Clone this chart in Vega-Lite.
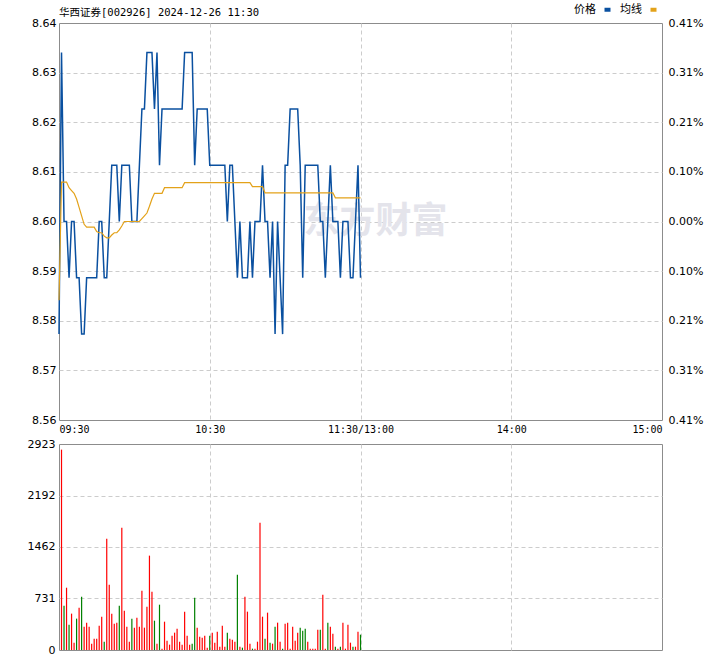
{
  "$schema": "https://vega.github.io/schema/vega-lite/v6.json",
  "background": "white",
  "padding": {"left": 5, "top": 3, "right": 0, "bottom": 0},
  "bounds": "flush",
  "spacing": 24,
  "resolve": {"scale": {"color": "independent"}},
  "config": {
    "view": {"stroke": "#8c8c8c", "strokeWidth": 1},
    "axis": {"domain": false, "ticks": false, "gridColor": "#cccccc", "gridDash": [4, 3], "gridWidth": 1, "labelFont": "DejaVu Sans", "labelFontSize": 11, "labelColor": "#000000", "title": null}
  },
  "datasets": {
    "px": [
      {"t":0,"p":8.58,"a":8.586},{"t":1,"p":8.63,"a":8.607},{"t":2,"p":8.60,"a":8.607},{"t":3,"p":8.60,"a":8.607},{"t":4,"p":8.59,"a":8.606},
      {"t":5,"p":8.60,"a":8.6055},{"t":6,"p":8.60,"a":8.605},{"t":7,"p":8.59,"a":8.604},{"t":8,"p":8.59,"a":8.6025},{"t":9,"p":8.58,"a":8.601},
      {"t":10,"p":8.58,"a":8.5995},{"t":11,"p":8.59,"a":8.599},{"t":12,"p":8.59,"a":8.599},{"t":13,"p":8.59,"a":8.599},{"t":14,"p":8.59,"a":8.599},
      {"t":15,"p":8.59,"a":8.5982},{"t":16,"p":8.60,"a":8.598},{"t":17,"p":8.60,"a":8.598},{"t":18,"p":8.59,"a":8.5974},{"t":19,"p":8.59,"a":8.5971},
      {"t":20,"p":8.60,"a":8.5971},{"t":21,"p":8.61,"a":8.5976},{"t":22,"p":8.61,"a":8.598},{"t":23,"p":8.61,"a":8.598},{"t":24,"p":8.60,"a":8.5985},
      {"t":25,"p":8.61,"a":8.5992},{"t":26,"p":8.61,"a":8.600},{"t":27,"p":8.61,"a":8.600},{"t":28,"p":8.61,"a":8.600},{"t":29,"p":8.60,"a":8.600},
      {"t":30,"p":8.60,"a":8.600},{"t":31,"p":8.60,"a":8.600},{"t":32,"p":8.61,"a":8.600},{"t":33,"p":8.62,"a":8.6005},{"t":34,"p":8.62,"a":8.601},
      {"t":35,"p":8.63,"a":8.6015},{"t":36,"p":8.63,"a":8.6027},{"t":37,"p":8.63,"a":8.604},{"t":38,"p":8.62,"a":8.605},{"t":39,"p":8.63,"a":8.605},
      {"t":40,"p":8.61,"a":8.605},{"t":41,"p":8.62,"a":8.605},{"t":42,"p":8.62,"a":8.606},{"t":43,"p":8.62,"a":8.606},{"t":44,"p":8.62,"a":8.606},
      {"t":45,"p":8.62,"a":8.606},{"t":46,"p":8.62,"a":8.606},{"t":47,"p":8.62,"a":8.606},{"t":48,"p":8.62,"a":8.606},{"t":49,"p":8.62,"a":8.606},
      {"t":50,"p":8.63,"a":8.6069},{"t":51,"p":8.63,"a":8.6069},{"t":52,"p":8.63,"a":8.6069},{"t":53,"p":8.63,"a":8.6069},{"t":54,"p":8.61,"a":8.6069},
      {"t":55,"p":8.62,"a":8.6069},{"t":56,"p":8.62,"a":8.6069},{"t":57,"p":8.62,"a":8.6069},{"t":58,"p":8.62,"a":8.6069},{"t":59,"p":8.62,"a":8.6069},
      {"t":60,"p":8.61,"a":8.6069},{"t":61,"p":8.61,"a":8.6069},{"t":62,"p":8.61,"a":8.6069},{"t":63,"p":8.61,"a":8.6069},{"t":64,"p":8.61,"a":8.6069},
      {"t":65,"p":8.61,"a":8.6069},{"t":66,"p":8.61,"a":8.6069},{"t":67,"p":8.60,"a":8.6069},{"t":68,"p":8.61,"a":8.6069},{"t":69,"p":8.61,"a":8.6069},
      {"t":70,"p":8.60,"a":8.6069},{"t":71,"p":8.59,"a":8.6069},{"t":72,"p":8.60,"a":8.6069},{"t":73,"p":8.59,"a":8.6069},{"t":74,"p":8.59,"a":8.6069},
      {"t":75,"p":8.59,"a":8.6069},{"t":76,"p":8.60,"a":8.6069},{"t":77,"p":8.59,"a":8.6062},{"t":78,"p":8.60,"a":8.6062},{"t":79,"p":8.60,"a":8.6062},
      {"t":80,"p":8.60,"a":8.6062},{"t":81,"p":8.61,"a":8.6062},{"t":82,"p":8.60,"a":8.6051},{"t":83,"p":8.60,"a":8.6051},{"t":84,"p":8.59,"a":8.6051},
      {"t":85,"p":8.60,"a":8.6051},{"t":86,"p":8.58,"a":8.6051},{"t":87,"p":8.60,"a":8.6051},{"t":88,"p":8.59,"a":8.6051},{"t":89,"p":8.58,"a":8.6051},
      {"t":90,"p":8.61,"a":8.6051},{"t":91,"p":8.61,"a":8.6051},{"t":92,"p":8.62,"a":8.6051},{"t":93,"p":8.62,"a":8.6051},{"t":94,"p":8.62,"a":8.6051},
      {"t":95,"p":8.62,"a":8.6051},{"t":96,"p":8.61,"a":8.6051},{"t":97,"p":8.59,"a":8.6051},{"t":98,"p":8.61,"a":8.6051},{"t":99,"p":8.61,"a":8.6051},
      {"t":100,"p":8.61,"a":8.6051},{"t":101,"p":8.61,"a":8.6051},{"t":102,"p":8.61,"a":8.6051},{"t":103,"p":8.61,"a":8.6051},{"t":104,"p":8.60,"a":8.6051},
      {"t":105,"p":8.60,"a":8.6051},{"t":106,"p":8.59,"a":8.6051},{"t":107,"p":8.60,"a":8.6051},{"t":108,"p":8.61,"a":8.6051},{"t":109,"p":8.60,"a":8.6051},
      {"t":110,"p":8.60,"a":8.6042},{"t":111,"p":8.60,"a":8.6042},{"t":112,"p":8.59,"a":8.6042},{"t":113,"p":8.60,"a":8.6042},{"t":114,"p":8.60,"a":8.6042},
      {"t":115,"p":8.60,"a":8.6042},{"t":116,"p":8.59,"a":8.6042},{"t":117,"p":8.59,"a":8.6042},{"t":118,"p":8.60,"a":8.6042},{"t":119,"p":8.61,"a":8.6042},
      {"t":120,"p":8.59,"a":8.6042}
    ],
    "vol": [
      {"t":1,"v":2843,"d":"r"},{"t":2,"v":629,"d":"g"},{"t":3,"v":884,"d":"r"},{"t":4,"v":360,"d":"g"},{"t":5,"v":516,"d":"r"},
      {"t":6,"v":104,"d":"r"},{"t":7,"v":445,"d":"g"},{"t":8,"v":600,"d":"r"},{"t":9,"v":757,"d":"g"},{"t":10,"v":331,"d":"r"},
      {"t":11,"v":388,"d":"r"},{"t":12,"v":331,"d":"r"},{"t":13,"v":90,"d":"r"},{"t":14,"v":161,"d":"r"},{"t":15,"v":161,"d":"r"},
      {"t":16,"v":345,"d":"r"},{"t":17,"v":473,"d":"r"},{"t":18,"v":118,"d":"g"},{"t":19,"v":1580,"d":"r"},{"t":20,"v":927,"d":"r"},
      {"t":21,"v":516,"d":"r"},{"t":22,"v":374,"d":"r"},{"t":23,"v":388,"d":"r"},{"t":24,"v":629,"d":"g"},{"t":25,"v":1736,"d":"r"},
      {"t":26,"v":558,"d":"r"},{"t":27,"v":331,"d":"r"},{"t":28,"v":118,"d":"r"},{"t":29,"v":445,"d":"g"},{"t":30,"v":317,"d":"r"},
      {"t":31,"v":459,"d":"r"},{"t":32,"v":331,"d":"r"},{"t":33,"v":842,"d":"r"},{"t":34,"v":317,"d":"r"},{"t":35,"v":615,"d":"r"},
      {"t":36,"v":1339,"d":"r"},{"t":37,"v":828,"d":"r"},{"t":38,"v":416,"d":"g"},{"t":39,"v":90,"d":"r"},{"t":40,"v":643,"d":"g"},
      {"t":41,"v":19,"d":"r"},{"t":42,"v":402,"d":"r"},{"t":43,"v":132,"d":"r"},{"t":44,"v":76,"d":"r"},{"t":45,"v":203,"d":"r"},
      {"t":46,"v":246,"d":"r"},{"t":47,"v":303,"d":"r"},{"t":48,"v":118,"d":"r"},{"t":49,"v":76,"d":"r"},{"t":50,"v":544,"d":"r"},
      {"t":51,"v":203,"d":"r"},{"t":52,"v":76,"d":"r"},{"t":53,"v":90,"d":"g"},{"t":54,"v":743,"d":"g"},{"t":55,"v":317,"d":"r"},
      {"t":56,"v":189,"d":"r"},{"t":57,"v":175,"d":"r"},{"t":58,"v":203,"d":"r"},{"t":59,"v":33,"d":"r"},{"t":60,"v":203,"d":"g"},
      {"t":61,"v":246,"d":"r"},{"t":62,"v":104,"d":"r"},{"t":63,"v":260,"d":"r"},{"t":64,"v":47,"d":"r"},{"t":65,"v":345,"d":"r"},
      {"t":66,"v":47,"d":"r"},{"t":67,"v":246,"d":"g"},{"t":68,"v":161,"d":"r"},{"t":69,"v":147,"d":"r"},{"t":70,"v":118,"d":"r"},
      {"t":71,"v":1069,"d":"g"},{"t":72,"v":47,"d":"r"},{"t":73,"v":33,"d":"g"},{"t":74,"v":757,"d":"r"},{"t":75,"v":544,"d":"r"},
      {"t":76,"v":90,"d":"r"},{"t":77,"v":19,"d":"g"},{"t":78,"v":19,"d":"r"},{"t":79,"v":118,"d":"r"},{"t":80,"v":1807,"d":"r"},
      {"t":81,"v":473,"d":"r"},{"t":82,"v":161,"d":"g"},{"t":83,"v":530,"d":"r"},{"t":84,"v":104,"d":"g"},{"t":85,"v":90,"d":"r"},
      {"t":86,"v":331,"d":"g"},{"t":87,"v":388,"d":"r"},{"t":88,"v":118,"d":"r"},{"t":89,"v":19,"d":"g"},{"t":90,"v":374,"d":"r"},
      {"t":91,"v":388,"d":"r"},{"t":92,"v":19,"d":"r"},{"t":93,"v":331,"d":"r"},{"t":94,"v":132,"d":"r"},{"t":95,"v":246,"d":"r"},
      {"t":96,"v":317,"d":"g"},{"t":97,"v":274,"d":"g"},{"t":98,"v":303,"d":"g"},{"t":99,"v":118,"d":"r"},{"t":100,"v":19,"d":"r"},
      {"t":101,"v":19,"d":"r"},{"t":102,"v":19,"d":"r"},{"t":103,"v":289,"d":"r"},{"t":104,"v":289,"d":"g"},{"t":105,"v":785,"d":"r"},
      {"t":106,"v":19,"d":"r"},{"t":107,"v":388,"d":"g"},{"t":108,"v":331,"d":"r"},{"t":109,"v":232,"d":"r"},{"t":110,"v":47,"d":"g"},
      {"t":111,"v":19,"d":"r"},{"t":112,"v":47,"d":"g"},{"t":113,"v":388,"d":"r"},{"t":114,"v":19,"d":"r"},{"t":115,"v":360,"d":"r"},
      {"t":116,"v":104,"d":"r"},{"t":117,"v":47,"d":"g"},{"t":118,"v":47,"d":"r"},{"t":119,"v":260,"d":"r"},{"t":120,"v":218,"d":"g"}
    ],
    "wm": [{"t": 126, "p": 8.6, "w": "东方财富"}]
  },
  "vconcat": [
    {
      "width": 603,
      "height": 397,
      "title": {"text": "华西证券[002926] 2024-12-26 11:30", "anchor": "start", "frame": "group", "font": "DejaVu Sans Mono, Noto Sans CJK SC", "fontSize": 10.5, "fontWeight": "normal", "color": "#000000", "offset": -14},
      "resolve": {"scale": {"y": "independent"}},
      "layer": [
        {
          "data": {"name": "wm"},
          "mark": {"type": "text", "font": "Noto Sans CJK SC", "fontSize": 36, "fontWeight": "bold", "color": "#e4e4eb"},
          "encoding": {
            "x": {"field": "t", "type": "quantitative", "scale": {"domain": [0, 240], "nice": false, "zero": false},
              "axis": {"values": [0, 60, 120, 180, 240], "labelExpr": "datum.value==0?'09:30':datum.value==60?'10:30':datum.value==120?'11:30/13:00':datum.value==180?'14:00':'15:00'", "labelFlush": true, "labelFont": "DejaVu Sans Mono", "labelFontSize": 10, "labelPadding": 4, "grid": true, "gridOpacity": {"condition": {"test": "datum.value==0 || datum.value==240", "value": 0}, "value": 1}}},
            "y": {"field": "p", "type": "quantitative", "scale": {"domain": [8.56474, 8.63526], "nice": false, "zero": false}, "axis": null},
            "text": {"field": "w"}
          }
        },
        {
          "data": {"name": "px"},
          "mark": {"type": "line", "strokeWidth": 1.5, "interpolate": "linear"},
          "encoding": {
            "x": {"field": "t", "type": "quantitative", "scale": {"domain": [0, 240], "nice": false, "zero": false},
              "axis": {"values": [0, 60, 120, 180, 240], "labelExpr": "datum.value==0?'09:30':datum.value==60?'10:30':datum.value==120?'11:30/13:00':datum.value==180?'14:00':'15:00'", "labelFlush": true, "labelFont": "DejaVu Sans Mono", "labelFontSize": 10, "labelPadding": 4, "grid": true, "gridOpacity": {"condition": {"test": "datum.value==0 || datum.value==240", "value": 0}, "value": 1}}},
            "y": {"field": "p", "type": "quantitative", "scale": {"domain": [8.56474, 8.63526], "nice": false, "zero": false},
              "axis": {"orient": "left", "values": [8.56474, 8.573555, 8.58237, 8.591185, 8.6, 8.608815, 8.61763, 8.626445, 8.63526], "format": ".2f", "labelPadding": 3, "minExtent": 53, "maxExtent": 53, "grid": true,
                "gridOpacity": {"condition": {"test": "datum.value > 8.635 || datum.value < 8.565", "value": 0}, "value": 1},
                "encode": {"labels": {"update": {"fill": {"signal": "datum.value > 8.601 ? '#ff0000' : (datum.value < 8.599 ? '#008000' : '#000000')"}}}}}},
            "color": {"datum": "价格", "type": "nominal", "scale": {"domain": ["价格", "均线"], "range": ["#0a50a0", "#e3a21a"]},
              "legend": {"orient": "none", "legendX": 543, "legendY": -19, "direction": "horizontal", "title": null, "symbolType": "M-1,0L1,0", "symbolSize": 36, "symbolStrokeWidth": 4, "labelFont": "Noto Sans CJK SC", "labelFontSize": 11, "labelColor": "#000000", "labelAlign": "right", "labelOffset": -17, "columnPadding": 1}}
          }
        },
        {
          "data": {"name": "px"},
          "mark": {"type": "line", "strokeWidth": 1.2, "interpolate": "linear"},
          "encoding": {
            "x": {"field": "t", "type": "quantitative", "scale": {"domain": [0, 240], "nice": false, "zero": false},
              "axis": {"values": [0, 60, 120, 180, 240], "labelExpr": "datum.value==0?'09:30':datum.value==60?'10:30':datum.value==120?'11:30/13:00':datum.value==180?'14:00':'15:00'", "labelFlush": true, "labelFont": "DejaVu Sans Mono", "labelFontSize": 10, "labelPadding": 4, "grid": true, "gridOpacity": {"condition": {"test": "datum.value==0 || datum.value==240", "value": 0}, "value": 1}}},
            "y": {"field": "a", "type": "quantitative", "scale": {"domain": [8.56474, 8.63526], "nice": false, "zero": false},
              "axis": {"orient": "right", "values": [8.56474, 8.573555, 8.58237, 8.591185, 8.6, 8.608815, 8.61763, 8.626445, 8.63526], "grid": false, "labelPadding": 6,
                "labelExpr": "['0.41%','0.31%','0.21%','0.10%','0.00%','0.10%','0.21%','0.31%','0.41%'][round((8.63526 - datum.value)/0.008815)]",
                "encode": {"labels": {"update": {"fill": {"signal": "datum.value > 8.601 ? '#ff0000' : (datum.value < 8.599 ? '#008000' : '#000000')"}}}}}},
            "color": {"datum": "均线", "type": "nominal"}
          }
        }
      ]
    },
    {
      "width": 603,
      "height": 206,
      "data": {"name": "vol"},
      "mark": {"type": "rule", "strokeWidth": 1.2},
      "encoding": {
        "x": {"field": "t", "type": "quantitative", "scale": {"domain": [0, 240], "nice": false, "zero": false},
          "axis": {"values": [60, 120, 180], "labels": false, "grid": true}},
        "y": {"field": "v", "type": "quantitative", "scale": {"domain": [0, 2923], "nice": false},
          "axis": {"values": [0, 731, 1462, 2192, 2923], "format": "d", "labelPadding": 4, "minExtent": 53, "maxExtent": 53, "grid": true,
            "gridOpacity": {"condition": {"test": "datum.value == 0 || datum.value == 2923", "value": 0}, "value": 1}}},
        "y2": {"datum": 0},
        "color": {"field": "d", "type": "nominal", "scale": {"domain": ["r", "g"], "range": ["#ff0000", "#008000"]}, "legend": null}
      }
    }
  ]
}
